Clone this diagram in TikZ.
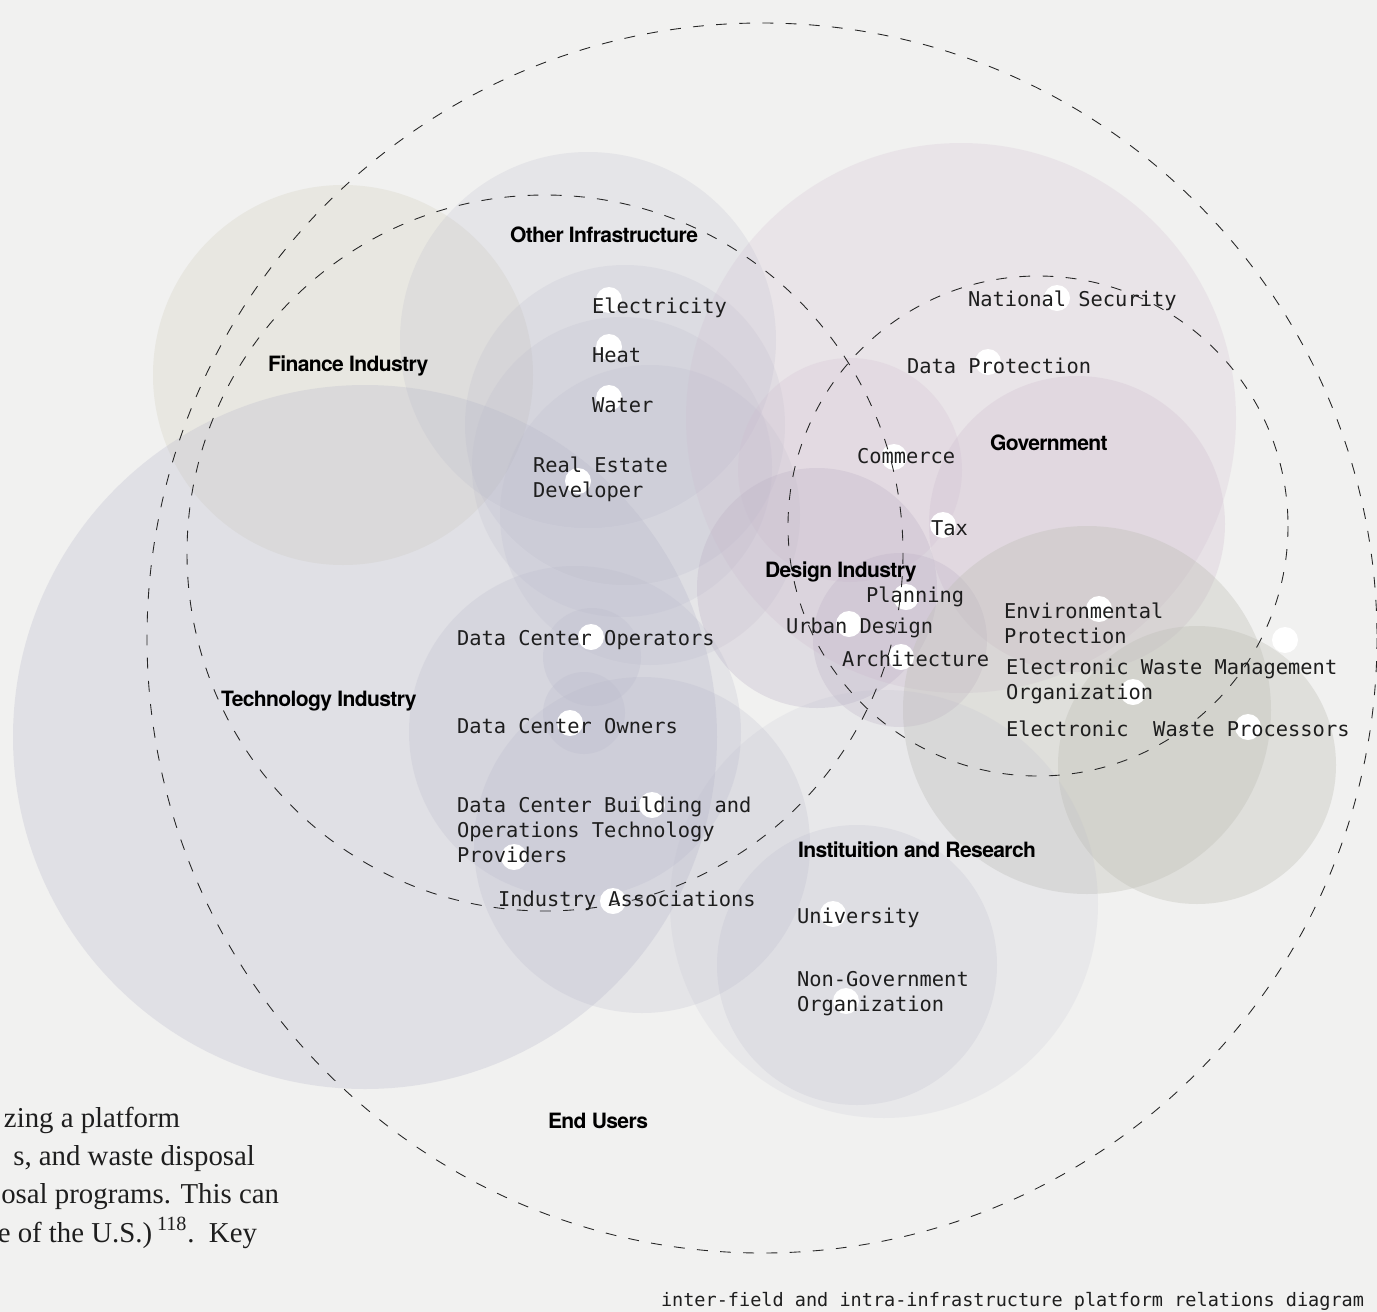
\documentclass[tikz,border=0pt]{standalone}
\usepackage{fontspec}
\setmainfont{Liberation Serif}
\newfontfamily\monofont{DejaVu Sans Mono}
\newfontfamily\headfont{TeX Gyre Heros}[LetterSpace=-3]

\definecolor{paper}{RGB}{241,241,240}
\definecolor{lav}{RGB}{182,182,201}
\definecolor{beige}{RGB}{212,208,192}
\definecolor{rose}{RGB}{206,186,206}
\definecolor{mauve}{RGB}{188,176,197}
\definecolor{stone}{RGB}{190,190,181}
\definecolor{ink}{RGB}{30,30,30}

\begin{document}
\begin{tikzpicture}[x=0.02cm,y=-0.02cm,
  every node/.style={inner sep=0pt,outer sep=0pt},
  mono/.style={font=\monofont\fontsize{11.6}{14.2}\selectfont,text=ink,anchor=base west,align=left},
  head/.style={font=\headfont\bfseries\fontsize{12}{14}\selectfont,text=black,anchor=base west},
  body/.style={font=\fontsize{16.4}{21.7}\selectfont,text=ink,anchor=base east},
  caption/.style={font=\monofont\fontsize{10.55}{12}\selectfont,text=ink,anchor=base west},
  dot/.style={fill=white},
  ring/.style={draw=black!85,line width=0.5pt,dash pattern=on 6.2pt off 7pt}
]
\useasboundingbox (0,0) rectangle (1377,1312);
\clip (0,0) rectangle (1377,1312);
\fill[paper] (0,0) rectangle (1377,1312);

% translucent field discs
\fill[beige,fill opacity=.30] (343,375) circle[radius=190];   % finance
\fill[lav,fill opacity=.28]   (365,737) circle[radius=352];   % technology
\fill[lav,fill opacity=.20]   (588,340) circle[radius=188];   % other infrastructure
\fill[lav,fill opacity=.18]   (625,425) circle[radius=160];   % electricity
\fill[lav,fill opacity=.18]   (622,467) circle[radius=150];   % heat
\fill[lav,fill opacity=.18]   (650,515) circle[radius=150];   % water
\fill[rose,fill opacity=.22]  (961,418) circle[radius=275];   % government
\fill[rose,fill opacity=.28]  (1077,524) circle[radius=148];  % government core
\fill[rose,fill opacity=.22]  (850,470) circle[radius=112];   % commerce
\fill[mauve,fill opacity=.30] (817,588) circle[radius=120];   % design
\fill[mauve,fill opacity=.28] (900,640) circle[radius=87];    % architecture
\fill[stone,fill opacity=.35] (1087,710) circle[radius=184];  % environmental
\fill[stone,fill opacity=.35] (1197,765) circle[radius=139];  % waste processors
\fill[lav,fill opacity=.22]   (575,732) circle[radius=166];   % data centres
\fill[lav,fill opacity=.22]   (642,845) circle[radius=168];   % data centre building
\fill[lav,fill opacity=.22]   (592,657) circle[radius=49];    % operators
\fill[lav,fill opacity=.22]   (584,713) circle[radius=41];    % owners
\fill[lav,fill opacity=.15]   (884,904) circle[radius=214];   % institution
\fill[lav,fill opacity=.20]   (857,965) circle[radius=140];   % university

% actor points
\foreach \p in {(609,300),(609,347),(609,398),(578,481),
                (1057,298),(988,362),(894,457),(943,525),
                (906,597),(849,624),(901,657),
                (1099,609),(1133,692),(1248,727),(1285,640),
                (591,637),(570,723),(652,805),(514,857),(613,901),
                (833,914),(846,1001)}
  \fill[dot] \p circle[radius=13];

% dashed platform boundaries
\draw[ring] (762,638) circle[radius=615];
\draw[ring] (545,553) circle[radius=358];
\draw[ring] (1038,526) circle[radius=250];

% field headings
\node[head] (infra)  at (510,242)  {Other Infrastructure};
\node[head] (fin)    at (268,371)  {Finance Industry};
\node[head] (gov)    at (990,450)  {Government};
\node[head] (design) at (765,577)  {Design Industry};
\node[head] (tech)   at (221,706)  {Technology Industry};
\node[head] (inst)   at (798,857)  {Instituition and Research};
\node[head] (users)  at (548,1128) {End Users};

% actors (multi-line labels are placed by their last baseline)
\node[mono] (elec)   at (592,313)  {Electricity};
\node[mono] (heat)   at (592,362)  {Heat};
\node[mono] (water)  at (592,412)  {Water};
\node[mono] (estate) at (533,497)  {Real Estate\\Developer};
\node[mono] (natsec) at (968,306)  {National Security};
\node[mono] (dprot)  at (907,373)  {Data Protection};
\node[mono] (comm)   at (857,463)  {Commerce};
\node[mono] (tax)    at (931,535)  {Tax};
\node[mono] (plan)   at (866,602)  {Planning};
\node[mono] (urban)  at (786,633)  {Urban Design};
\node[mono] (arch)   at (842,666)  {Architecture};
\node[mono] (envp)   at (1004,643) {Environmental\\Protection};
\node[mono] (ewmo)   at (1006,699) {Electronic Waste Management\\Organization};
\node[mono] (ewp)    at (1006,736) {Electronic\ \ Waste Processors};
\node[mono] (dcop)   at (457,645)  {Data Center Operators};
\node[mono] (dcown)  at (457,733)  {Data Center Owners};
\node[mono] (dcbld)  at (457,862)  {Data Center Building and\\Operations Technology\\Providers};
\node[mono] (assoc)  at (498,906)  {Industry Associations};
\node[mono] (univ)   at (797,923)  {University};
\node[mono] (ngo)    at (797,1011) {Non-Government\\Organization};

% running text of the page
\node[body] (t1) at (180,1127) {zing a platform};
\node[body] (t2) at (255,1165) {s, and waste disposal};
\node[body] (t3) at (279,1203) {osal programs. This can};
\node[body] (t4) at (257,1242) {e of the U.S.)\,\textsuperscript{118}.\ \ Key};

\node[caption] (cap) at (661,1306) {inter-field and intra-infrastructure platform relations diagram};
\end{tikzpicture}
\end{document}
